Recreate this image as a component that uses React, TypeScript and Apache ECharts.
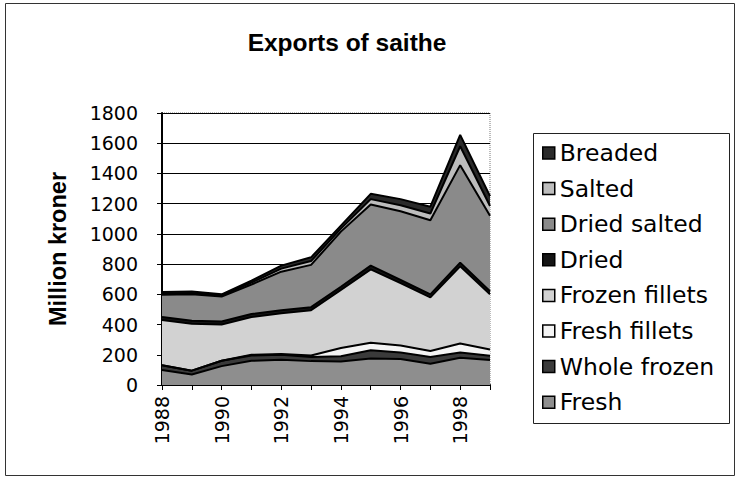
import React, { useEffect, useRef } from "react";
import * as echarts from "echarts";

const years = ["1988", "1989", "1990", "1991", "1992", "1993", "1994", "1995", "1996", "1997", "1998", "1999"];
const fresh = [100, 70, 125, 160, 167, 158, 155, 175, 172, 140, 180, 165];
const wholeFrozen = [30, 25, 35, 35, 33, 27, 35, 55, 43, 45, 35, 28];
const freshFillets = [0, 0, 0, 5, 5, 10, 55, 50, 47, 40, 60, 42];
const frozenFillets = [300, 310, 240, 250, 270, 300, 385, 485, 413, 355, 510, 365];
const dried = [20, 20, 20, 20, 20, 20, 20, 25, 20, 20, 25, 20];
const driedSalted = [148, 175, 165, 195, 255, 280, 365, 405, 455, 490, 645, 500];
const salted = [7, 7, 7, 12, 20, 25, 20, 35, 40, 45, 125, 65];
const breaded = [10, 11, 8, 13, 20, 25, 20, 35, 40, 45, 75, 65];
const yTicks = { min: 0, max: 1800, interval: 200 };

const seriesDefs = [
  { name: "Fresh", data: fresh, color: "#8e8e8e" },
  { name: "Whole frozen", data: wholeFrozen, color: "#3a3a3a" },
  { name: "Fresh fillets", data: freshFillets, color: "#f4f4f4" },
  { name: "Frozen fillets", data: frozenFillets, color: "#d2d2d2" },
  { name: "Dried", data: dried, color: "#151515" },
  { name: "Dried salted", data: driedSalted, color: "#8a8a8a" },
  { name: "Salted", data: salted, color: "#bdbdbd" },
  { name: "Breaded", data: breaded, color: "#2a2a2a" },
];

export default function App() {
  const ref = useRef<HTMLDivElement>(null);
  useEffect(() => {
    document.body.style.margin = "0";
    const chart = echarts.init(ref.current!, undefined, { renderer: "svg" });
    const tickFont = { fontFamily: "DejaVu Sans", fontSize: 19, color: "#000" };
    chart.setOption({
      animation: false,
      backgroundColor: "#fff",
      grid: {
        left: 162,
        top: 113,
        width: 328,
        height: 272,
        show: true,
        borderColor: "#777",
        borderWidth: 1,
        borderType: "dotted",
        backgroundColor: "#fff",
      },
      xAxis: {
        type: "category",
        boundaryGap: false,
        data: years,
        axisLine: { show: true, lineStyle: { color: "#000", width: 2 } },
        axisTick: { show: true, inside: false, length: 5, interval: 0, lineStyle: { color: "#000", width: 1 } },
        axisLabel: { ...tickFont, rotate: 90, interval: 1, margin: 11 },
        splitLine: { show: false },
      },
      yAxis: {
        type: "value",
        min: yTicks.min,
        max: yTicks.max,
        interval: yTicks.interval,
        name: "Million kroner",
        nameLocation: "middle",
        nameRotate: 90,
        nameGap: 92,
        nameTextStyle: { fontFamily: "Liberation Sans", fontWeight: "bold", fontSize: 23.5, color: "#000" },
        axisLine: { show: true, lineStyle: { color: "#000", width: 2 } },
        axisTick: { show: true, inside: false, length: 5, lineStyle: { color: "#000", width: 1 } },
        axisLabel: { ...tickFont, margin: 24, formatter: (v: number) => String(v) },
        splitLine: { show: true, lineStyle: { color: "#000", width: 1 } },
      },
      legend: {
        orient: "vertical",
        left: 542,
        top: 141,
        icon: "rect",
        itemWidth: 12,
        itemHeight: 12,
        itemGap: 11.6,
        padding: 0,
        data: seriesDefs.map((s) => s.name).reverse(),
        itemStyle: { borderColor: "#000", borderWidth: 1.5 },
        textStyle: { fontFamily: "DejaVu Sans", fontSize: 23.5, color: "#000", lineHeight: 24 },
      },
      graphic: [
        {
          type: "rect",
          shape: { x: 5.5, y: 3.5, width: 729, height: 472 },
          style: { fill: "none", stroke: "#333", lineWidth: 1 },
          silent: true,
          z: -10,
        },
        {
          type: "rect",
          shape: { x: 533.5, y: 133.5, width: 196, height: 290 },
          style: { fill: "none", stroke: "#222", lineWidth: 1 },
          silent: true,
        },
        {
          type: "text",
          x: 347,
          y: 42,
          style: {
            text: "Exports of saithe",
            fontFamily: "Liberation Sans",
            fontWeight: "bold",
            fontSize: 24.5,
            fill: "#000",
            textAlign: "center",
            textVerticalAlign: "middle",
          },
        },
      ],
      series: seriesDefs.map((s) => ({
        name: s.name,
        type: "line",
        stack: "total",
        data: s.data,
        color: s.color,
        symbol: "none",
        showSymbol: false,
        lineStyle: { color: "#000", width: 2 },
        areaStyle: { color: s.color, opacity: 1 },
        emphasis: { disabled: true },
      })),
    });
    return () => chart.dispose();
  }, []);
  return <div ref={ref} style={{ width: 740, height: 479, position: "fixed", left: 0, top: 0 }} />;
}
